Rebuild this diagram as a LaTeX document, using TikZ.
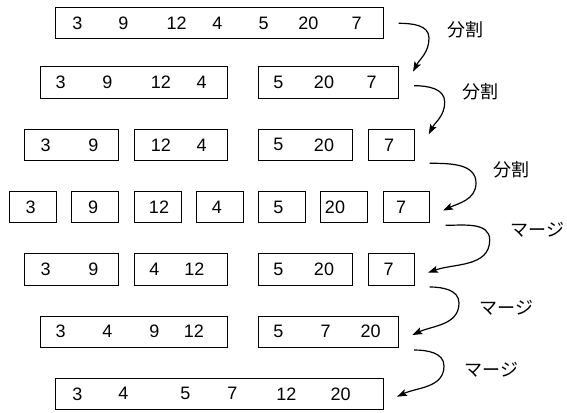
\documentclass[tikz,border=0pt]{standalone}
\usepackage{fontspec}
\setmainfont{Liberation Sans}
\newfontfamily\jpfont{Noto Sans CJK JP}
\usetikzlibrary{arrows.meta}
\tikzset{
  box/.style={draw, line width=1pt, inner sep=0pt, outer sep=0pt, rectangle},
  numtxt/.style={inner sep=0pt, font=\fontsize{18}{20}\selectfont},
  lbl/.style={inner sep=0pt, font=\jpfont\fontsize{18}{20}\selectfont},
  flow/.style={line width=1.2pt, -{Stealth[length=10pt,width=7pt,inset=2pt]}},
}
\newcommand\mybox[5]{\node[box, minimum width={#3-#2}, minimum height={#5-#4}] (#1) at ({(#2+#3)/2},{-(#4+#5)/2}) {};}
\newcommand\mynum[4]{\node[numtxt] (#1) at (#2,{-#3}) {#4};}
\newcommand\myflow[7]{%
  \coordinate (#1s) at (#2);
  \coordinate (#1m) at (#3);
  \coordinate (#1t) at (#4);
  \draw[flow] (#1s) to[out=0,in=90] (#1m) to[out=-90,in=#5] (#1t);
  \node[lbl] (#1l) at (#6) {#7};}
\begin{document}
\begin{tikzpicture}[x=1pt,y=1pt]
\useasboundingbox (0,0) rectangle (567,-412);
% row 1
\mybox{r1}{55.7}{383.7}{7.3}{38.7}
\mynum{n1a}{77.3}{23}{3}\mynum{n1b}{123.3}{23}{9}\mynum{n1c}{176.7}{23}{12}\mynum{n1d}{217.3}{23}{4}
\mynum{n1e}{263.7}{23}{5}\mynum{n1f}{308.3}{23}{20}\mynum{n1g}{356.7}{23}{7}
% row 2
\mybox{r2a}{40.3}{227.7}{66.7}{98.3}
\mybox{r2b}{258.3}{398.7}{66.7}{98.3}
\mynum{n2a}{60.7}{82.5}{3}\mynum{n2b}{107.3}{82.5}{9}\mynum{n2c}{161}{82.5}{12}\mynum{n2d}{201.7}{82.5}{4}
\mynum{n2e}{278.3}{82.5}{5}\mynum{n2f}{324}{82.5}{20}\mynum{n2g}{371.7}{82.5}{7}
% row 3
\mybox{r3a}{24.3}{118.3}{129}{160.7}
\mybox{r3b}{134}{227.7}{129}{160.7}
\mybox{r3c}{258.3}{352.3}{129}{160.7}
\mybox{r3d}{368}{414}{129}{160.7}
\mynum{n3a}{45.7}{144.85}{3}\mynum{n3b}{93.3}{144.85}{9}\mynum{n3c}{161}{144.85}{12}\mynum{n3d}{201.7}{144.85}{4}
\mynum{n3e}{278.3}{144.85}{5}\mynum{n3f}{324}{144.85}{20}\mynum{n3g}{389}{144.85}{7}
% row 4
\mybox{r4a}{9}{56}{191.7}{222.7}
\mybox{r4b}{71.7}{118.3}{191.7}{222.7}
\mybox{r4c}{134}{181}{191.7}{222.7}
\mybox{r4d}{196.3}{243.3}{191.7}{222.7}
\mybox{r4e}{258.3}{305.7}{191.7}{222.7}
\mybox{r4f}{320.7}{367.3}{191.7}{222.7}
\mybox{r4g}{383}{429.7}{191.7}{222.7}
\mynum{n4a}{30.7}{207.2}{3}\mynum{n4b}{93.2}{207.2}{9}\mynum{n4c}{159}{207.2}{12}\mynum{n4d}{216.8}{207.2}{4}
\mynum{n4e}{278.3}{207.2}{5}\mynum{n4f}{335}{207.2}{20}\mynum{n4g}{401.2}{207.2}{7}
% row 5
\mybox{r5a}{24.3}{118.3}{253.7}{285}
\mybox{r5b}{134}{227.7}{253.7}{285}
\mybox{r5c}{258.3}{352.3}{253.7}{285}
\mybox{r5d}{368}{414}{253.7}{285}
\mynum{n5a}{45.7}{269.35}{3}\mynum{n5b}{93.3}{269.35}{9}\mynum{n5c}{154.3}{269.35}{4}\mynum{n5d}{194.5}{269.35}{12}
\mynum{n5e}{278.3}{269.35}{5}\mynum{n5f}{324}{269.35}{20}\mynum{n5g}{388.7}{269.35}{7}
% row 6
\mybox{r6a}{40.3}{227.7}{316}{347}
\mybox{r6b}{258.3}{398.7}{316}{347}
\mynum{n6a}{60.7}{331.5}{3}\mynum{n6b}{107.3}{331.5}{4}\mynum{n6c}{154.3}{331.5}{9}\mynum{n6d}{194}{331.5}{12}
\mynum{n6e}{278.3}{331.5}{5}\mynum{n6f}{325.7}{331.5}{7}\mynum{n6g}{370.7}{331.5}{20}
% row 7
\mybox{r7}{55.7}{383.7}{378.3}{409.3}
\mynum{n7a}{77.3}{393.8}{3}\mynum{n7b}{123.3}{393.8}{4}\mynum{n7c}{185.4}{393.8}{5}
\mynum{n7d}{232.3}{393.8}{7}\mynum{n7e}{286.3}{393.8}{12}\mynum{n7f}{340.7}{393.8}{20}
% arrows
\myflow{a1}{398.7,-23.3}{429,-38}{413,-71.7}{62}{465.3,-29.3}{分割}
\myflow{a2}{414,-85.7}{444.7,-102}{428.7,-134.3}{62}{480.7,-91.7}{分割}
\myflow{a3}{429.7,-163.3}{476,-183}{443,-210.5}{25}{511.3,-169.3}{分割}
\myflow{a4}{445.7,-225.3}{489.7,-240}{428,-272.7}{20}{537.3,-230}{マージ}
\myflow{a5}{429.7,-287}{459,-303}{412.3,-335}{25}{506.3,-307.7}{マージ}
\myflow{a6}{414,-350}{444,-366}{397,-396.7}{25}{491.3,-369.3}{マージ}
\end{tikzpicture}
\end{document}
